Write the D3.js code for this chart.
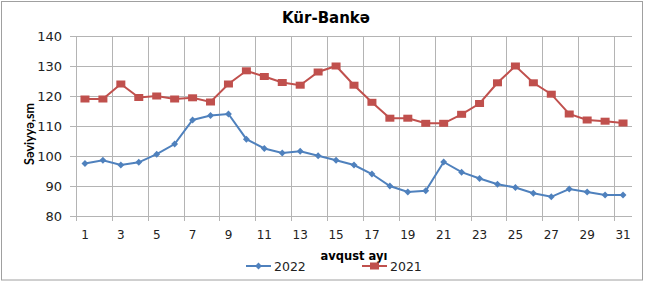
<!DOCTYPE html>
<html>
<head>
<meta charset="utf-8">
<script src="https://cdn.jsdelivr.net/npm/d3@7"></script>
<style>
  body { margin: 0; background: #fff; }
  svg { display: block; font-family: "DejaVu Sans", sans-serif; }
</style>
</head>
<body>
<svg width="648" height="282"></svg>
<script>
const days = d3.range(1, 32);
const yTicks = [80, 90, 100, 110, 120, 130, 140];
const values2022 = [97.5, 98.6, 97, 97.9, 100.6, 104, 112, 113.5, 114, 105.6,
  102.5, 101, 101.6, 100.1, 98.6, 97, 94, 90, 88, 88.4,
  98, 94.6, 92.5, 90.6, 89.5, 87.6, 86.4, 89, 88, 87, 87];
const values2021 = [119, 119, 124, 119.5, 120, 119, 119.4, 118, 124, 128.4,
  126.5, 124.5, 123.6, 128, 130, 123.6, 117.9, 112.6, 112.6, 110.9,
  110.9, 113.9, 117.5, 124.4, 130, 124.4, 120.6, 114, 112, 111.6, 111];

const blue = "#4f81bd", red = "#c0504d", grid = "#b4b4b4";

const svg = d3.select("svg");
const margin = {top: 36, right: 16, bottom: 66, left: 76};
const W = 648, H = 282;

const x = d3.scaleBand().domain(days).range([margin.left, W - margin.right]).padding(0);
const y = d3.scaleLinear().domain([80, 140]).range([H - margin.bottom, margin.top]);
const cx = d => x(d) + x.bandwidth() / 2;

// outer frame
svg.append("rect")
  .attr("x", 1.5).attr("y", 1.5)
  .attr("width", 641).attr("height", 278.5)
  .attr("fill", "none").attr("stroke", "#a0a0a0");

// horizontal grid + y labels
const gy = svg.append("g");
gy.selectAll("line").data(yTicks).join("line")
  .attr("x1", margin.left - 6).attr("x2", W - margin.right)
  .attr("y1", d => Math.round(y(d)) + 0.5).attr("y2", d => Math.round(y(d)) + 0.5)
  .attr("stroke", grid);
gy.selectAll("text").data(yTicks).join("text")
  .attr("x", 62).attr("y", d => y(d)).attr("dy", "0.36em")
  .attr("text-anchor", "end").attr("font-size", 13).attr("fill", "#222")
  .text(d => d);

// vertical grid every second day + x labels
const oddDays = days.filter(d => d % 2 === 1);
const gx = svg.append("g");
gx.selectAll("line").data(oddDays).join("line")
  .attr("x1", d => Math.round(x(d)) + 0.5).attr("x2", d => Math.round(x(d)) + 0.5)
  .attr("y1", margin.top).attr("y2", H - margin.bottom + 5)
  .attr("stroke", grid);
gx.selectAll("text").data(oddDays).join("text")
  .attr("x", cx).attr("y", 235).attr("dy", "0.36em")
  .attr("text-anchor", "middle").attr("font-size", 12).attr("fill", "#222")
  .text(d => d);

const line = d3.line().x((d, i) => cx(days[i])).y(d => y(d));

// 2022
svg.append("path").datum(values2022)
  .attr("d", line).attr("fill", "none").attr("stroke", blue).attr("stroke-width", 2);
svg.append("g").selectAll("path").data(values2022).join("path")
  .attr("d", d3.symbol(d3.symbolDiamond2, 30))
  .attr("transform", (d, i) => `translate(${cx(days[i])},${y(d)})`)
  .attr("fill", blue);

// 2021
svg.append("path").datum(values2021)
  .attr("d", line).attr("fill", "none").attr("stroke", red).attr("stroke-width", 2);
svg.append("g").selectAll("rect").data(values2021).join("rect")
  .attr("x", (d, i) => cx(days[i]) - 4.5).attr("y", d => y(d) - 3.5)
  .attr("width", 9).attr("height", 7)
  .attr("fill", red);

// titles
svg.append("text").attr("x", 326).attr("y", 18).attr("dy", "0.36em")
  .attr("text-anchor", "middle").attr("font-size", 15).attr("font-weight", "bold")
  .text("Kür-Bankə");
svg.append("text").attr("transform", "translate(29,134) rotate(-90)")
  .attr("dy", "0.36em").attr("text-anchor", "middle")
  .attr("font-family", "Lato, sans-serif")
  .attr("font-size", 12.5).attr("font-weight", "bold")
  .text("Səviyyə,sm");
svg.append("text").attr("x", 354).attr("y", 256).attr("dy", "0.36em")
  .attr("text-anchor", "middle").attr("font-size", 11.5).attr("font-weight", "bold")
  .text("avqust ayı");

// legend
const legend = [
  {name: "2022", color: blue, x: 246},
  {name: "2021", color: red, x: 362}
];
const lg = svg.append("g").selectAll("g").data(legend).join("g")
  .attr("transform", d => `translate(${d.x},266)`);
lg.append("line").attr("x1", 0).attr("x2", 25)
  .attr("stroke", d => d.color).attr("stroke-width", 2);
lg.filter(d => d.name === "2022").append("path")
  .attr("d", d3.symbol(d3.symbolDiamond2, 30))
  .attr("transform", "translate(12.5,0)").attr("fill", blue);
lg.filter(d => d.name === "2021").append("rect")
  .attr("x", 8).attr("y", -3.5).attr("width", 9).attr("height", 7).attr("fill", red);
lg.append("text").attr("x", 28).attr("dy", "0.36em")
  .attr("font-size", 12.5).attr("fill", "#222").text(d => d.name);
</script>
</body>
</html>
